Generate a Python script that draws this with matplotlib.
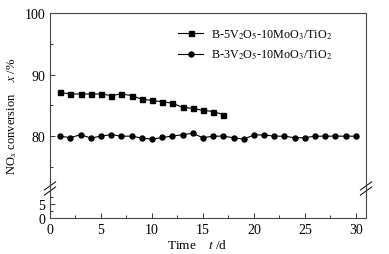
import numpy as np
import matplotlib
matplotlib.use("Agg")
import matplotlib.pyplot as plt
from matplotlib.ticker import FixedLocator, NullFormatter

plt.rcParams["font.family"] = ["Liberation Serif", "DejaVu Serif"]
plt.rcParams["mathtext.fontset"] = "stix"

# data
days_5v = list(range(1, 18))
conv_5v = [87.1, 86.85, 86.85, 86.85, 86.85, 86.6, 86.85, 86.6, 86.0, 85.8,
           85.6, 85.35, 84.7, 84.5, 84.2, 84.0, 83.5]
days_3v = list(range(1, 31))
conv_3v = [80.0, 79.75, 80.25, 79.7, 80.0, 80.25, 80.0, 80.0, 79.7, 79.5,
           79.8, 80.0, 80.25, 80.45, 79.75, 80.0, 80.0, 79.75, 79.5, 80.2,
           80.2, 80.0, 80.0, 79.75, 79.75, 80.0, 80.0, 80.0, 80.0, 80.0]
label_5v = r"B-5V$_2$O$_5$-10MoO$_3$/TiO$_2$"
label_3v = r"B-3V$_2$O$_5$-10MoO$_3$/TiO$_2$"
y_major = [0, 5, 80, 90, 100]
y_minor = [2.5, 7.5, 75, 85, 95]


# broken y axis: 0-10 squeezed at the bottom, 71.5-100 stretched above
def fwd(y):
    y = np.asarray(y, dtype=float)
    return np.where(y <= 10, y * 2.8,
                    np.where(y < 71.5, 28 + (y - 10) * (1.5 / 61.5),
                             29.5 + (y - 71.5) * 6.15))


def inv(v):
    v = np.asarray(v, dtype=float)
    return np.where(v <= 28, v / 2.8,
                    np.where(v < 29.5, 10 + (v - 28) * (61.5 / 1.5),
                             71.5 + (v - 29.5) / 6.15))


fig = plt.figure(figsize=(3.89, 2.55), dpi=100)
ax = fig.add_axes([0.1285, 0.141, 0.8125, 0.804])
ax.set_yscale("function", functions=(fwd, inv))

ax.plot(days_5v, conv_5v, "-s", color="black", lw=0.8, ms=3.6, label=label_5v)
ax.plot(days_3v, conv_3v, "-o", color="black", lw=0.8, ms=3.6, label=label_3v)

ax.set_xlim(0, 31)
ax.set_ylim(0, 100)
ax.xaxis.set_major_locator(FixedLocator([0, 5, 10, 15, 20, 25, 30]))
ax.xaxis.set_minor_locator(FixedLocator([2.5, 7.5, 12.5, 17.5, 22.5, 27.5]))
ax.yaxis.set_major_locator(FixedLocator(y_major))
ax.yaxis.set_minor_locator(FixedLocator(y_minor))
ax.yaxis.set_minor_formatter(NullFormatter())
ax.set_yticklabels([str(v) for v in y_major])
ax.tick_params(which="both", direction="in", labelsize=10, color="#333333")
ax.tick_params(which="major", length=3.5, width=0.7)
ax.tick_params(which="minor", length=2, width=0.7)
for s in ax.spines.values():
    s.set_linewidth(0.8)
    s.set_color("#444444")

# break marks on both side spines
yb = 27.0 / 205.0
for xs in (0, 1):
    for dy in (0, 0.025):
        ax.plot([xs - 0.018, xs + 0.018], [yb + dy - 0.02, yb + dy + 0.02],
                transform=ax.transAxes, color="black", lw=0.7, clip_on=False)

ax.set_xlabel(r"Time    $t$ /d", fontsize=9.5, labelpad=2)
ax.xaxis.set_label_coords(0.465, -0.095)
ax.set_ylabel(r"NO$_x$ conversion    $x$ /%", fontsize=9, labelpad=4)

ax.legend(loc="upper left", bbox_to_anchor=(0.39, 0.955), frameon=False,
          fontsize=8.7, handlelength=2.1, handletextpad=0.6, labelspacing=0.6,
          borderaxespad=0)

fig.savefig("out.png", dpi=100)
